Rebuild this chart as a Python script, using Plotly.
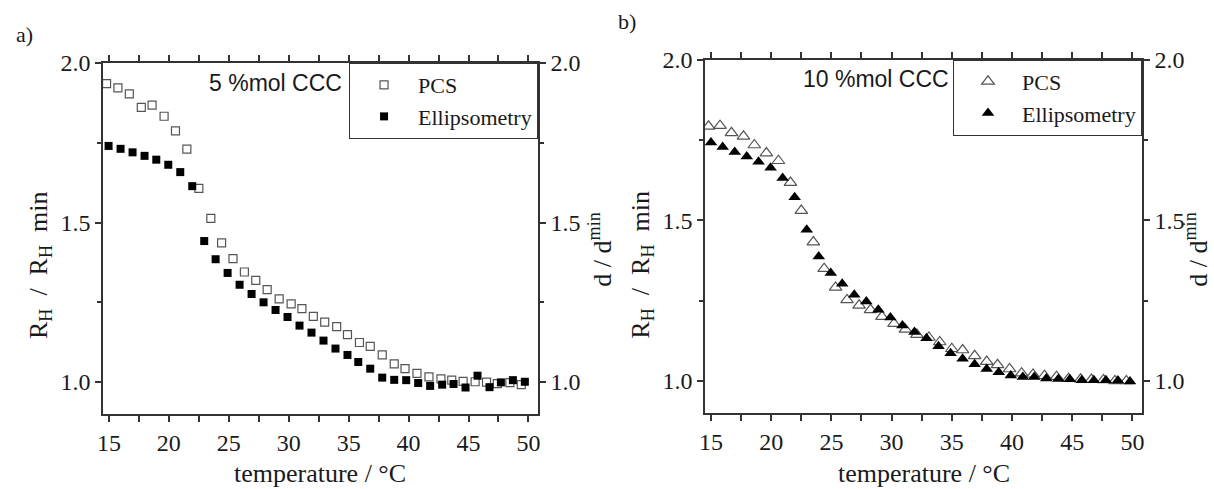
import plotly.graph_objects as go

# panel a) 5 %mol CCC
t_pcs_a = [14.8, 15.75, 16.7, 17.7, 18.6, 19.6, 20.55, 21.5, 22.5, 23.5, 24.4, 25.35, 26.3, 27.25,
           28.2, 29.2, 30.2, 31.1, 32.05, 33.0, 34.0, 34.9, 35.9, 36.8, 37.8, 38.8, 39.7, 40.7,
           41.7, 42.7, 43.6, 44.55, 45.55, 46.5, 47.4, 48.45, 49.4]
r_pcs_a = [1.935, 1.922, 1.903, 1.861, 1.868, 1.833, 1.787, 1.730, 1.607, 1.513, 1.436, 1.387,
           1.345, 1.319, 1.290, 1.261, 1.245, 1.230, 1.206, 1.188, 1.174, 1.149, 1.124, 1.112,
           1.085, 1.057, 1.042, 1.027, 1.016, 1.010, 1.006, 1.002, 1.001, 1.000, 0.995, 0.998, 0.992]
t_ell_a = [14.97, 15.97, 16.97, 17.97, 18.95, 19.95, 20.95, 21.95, 22.95, 23.9, 24.9, 25.9, 26.9,
           27.9, 28.9, 29.9, 30.9, 31.9, 32.9, 33.9, 34.9, 35.8, 36.8, 37.8, 38.8, 39.8, 40.8,
           41.8, 42.8, 43.75, 44.75, 45.75, 46.75, 47.7, 48.7, 49.7]
d_ell_a = [1.740, 1.731, 1.720, 1.709, 1.697, 1.681, 1.658, 1.614, 1.442, 1.385, 1.342, 1.305,
           1.276, 1.250, 1.226, 1.204, 1.177, 1.155, 1.130, 1.105, 1.085, 1.063, 1.042, 1.014,
           1.007, 1.006, 0.997, 0.988, 0.992, 0.994, 0.983, 1.020, 0.984, 0.999, 1.006, 1.001]

# panel b) 10 %mol CCC
t_pcs_b = [14.8, 15.75, 16.7, 17.7, 18.6, 19.6, 20.6, 21.6, 22.5, 23.5, 24.4, 25.35, 26.3, 27.3,
           28.25, 29.2, 30.2, 31.15, 32.1, 33.1, 34.0, 35.0, 35.9, 36.9, 37.9, 38.8, 39.8, 40.8,
           41.75, 42.7, 43.7, 44.7, 45.7, 46.6, 47.6, 48.55, 49.5]
r_pcs_b = [1.792, 1.794, 1.772, 1.761, 1.734, 1.709, 1.685, 1.617, 1.530, 1.432, 1.349, 1.291,
           1.252, 1.235, 1.221, 1.200, 1.178, 1.160, 1.144, 1.135, 1.121, 1.100, 1.096, 1.078,
           1.060, 1.050, 1.037, 1.024, 1.020, 1.016, 1.013, 1.007, 1.005, 1.004, 1.003, 1.000, 1.000]
t_ell_b = [15.0, 15.97, 16.97, 17.97, 18.95, 19.95, 20.95, 21.95, 22.95, 23.95, 24.95, 25.9, 26.9,
           27.9, 28.9, 29.9, 30.9, 31.9, 32.9, 33.9, 34.9, 35.9, 36.9, 37.9, 38.9, 39.9, 40.9,
           41.85, 42.85, 43.85, 44.8, 45.8, 46.8, 47.8, 48.8, 49.8]
d_ell_b = [1.742, 1.728, 1.712, 1.698, 1.682, 1.663, 1.631, 1.571, 1.470, 1.387, 1.336, 1.302,
           1.268, 1.247, 1.221, 1.197, 1.172, 1.152, 1.133, 1.108, 1.086, 1.069, 1.052, 1.037,
           1.027, 1.017, 1.012, 1.012, 1.007, 1.006, 1.005, 1.002, 1.002, 1.002, 1.001, 0.998]

x_range = [14.5, 50.8]
y_range = [0.9, 2.0]

SERIF = "Liberation Serif"
SANS = "Liberation Sans"
AX = "#333333"
INK = "#1a1a1a"

fig = go.Figure()

# a)
fig.add_trace(go.Scatter(x=t_pcs_a, y=r_pcs_a, name="PCS", mode="markers",
                         marker=dict(symbol="square", size=8, color="white",
                                     line=dict(color="#555555", width=1.2)),
                         xaxis="x", yaxis="y", legend="legend"))
fig.add_trace(go.Scatter(x=t_ell_a, y=d_ell_a, name="Ellipsometry", mode="markers",
                         marker=dict(symbol="square", size=8, color="black",
                                     line=dict(color="black", width=0)),
                         xaxis="x", yaxis="y2", legend="legend"))
# b)
fig.add_trace(go.Scatter(x=t_pcs_b, y=r_pcs_b, name="PCS", mode="markers",
                         marker=dict(symbol="triangle-up", size=11, color="white",
                                     line=dict(color="#555555", width=1.2)),
                         xaxis="x2", yaxis="y3", legend="legend2"))
fig.add_trace(go.Scatter(x=t_ell_b, y=d_ell_b, name="Ellipsometry", mode="markers",
                         marker=dict(symbol="triangle-up", size=11, color="black",
                                     line=dict(color="black", width=0)),
                         xaxis="x2", yaxis="y4", legend="legend2"))

xdom_a = [0.0848, 0.4432]
xdom_b = [0.5807, 0.9407]
ydom_a = [0.1534, 0.8712]
ydom_b = [0.1554, 0.8783]

tickfont = dict(family=SERIF, size=24, color=INK)


def xax(dom, anchor):
    return dict(domain=dom, anchor=anchor, range=x_range, tick0=15, dtick=5,
                ticks="outside", ticklen=6, tickwidth=1.5, tickcolor=AX,
                showline=True, linecolor=AX, linewidth=1.5, mirror="allticks",
                showgrid=False, zeroline=False, tickfont=tickfont, automargin=False,
                minor=dict(ticks="outside", dtick=2.5, ticklen=4, tickwidth=1.5, tickcolor=AX))


def yax(dom, anchor, side="left", overlay=None):
    d = dict(domain=dom, anchor=anchor, range=y_range, tick0=1.0, dtick=0.5,
             tickformat=".1f", side=side,
             ticks="outside", ticklen=6, tickwidth=1.5, tickcolor=AX,
             showline=True, linecolor=AX, linewidth=1.5, automargin=False,
             showgrid=False, zeroline=False, tickfont=tickfont,
             minor=dict(ticks="outside", dtick=0.25, ticklen=4, tickwidth=1.5, tickcolor=AX))
    if overlay:
        d["overlaying"] = overlay
    return d


legfont = dict(family=SERIF, size=22, color=INK)

fig.update_layout(
    width=1214, height=489,
    paper_bgcolor="white", plot_bgcolor="white",
    margin=dict(l=0, r=0, t=0, b=0, autoexpand=False),
    xaxis=xax(xdom_a, "y"),
    yaxis=yax(ydom_a, "x"),
    yaxis2=yax(ydom_a, "x", side="right", overlay="y"),
    xaxis2=xax(xdom_b, "y3"),
    yaxis3=yax(ydom_b, "x2"),
    yaxis4=yax(ydom_b, "x2", side="right", overlay="y3"),
    legend=dict(x=xdom_a[1], xanchor="right", y=ydom_a[1], yanchor="top",
                bgcolor="white", bordercolor=AX, borderwidth=1, font=legfont,
                itemwidth=58, tracegroupgap=0),
    legend2=dict(x=xdom_b[1], xanchor="right", y=ydom_b[1], yanchor="top",
                 bgcolor="white", bordercolor=AX, borderwidth=1, font=legfont,
                 itemwidth=58, tracegroupgap=0),
)

titlefont = dict(family=SERIF, size=26, color=INK)
rh_label = "R<sub>H</sub>  /  R<sub>H</sub>  min"
dd_label = "d / d<sup>min</sup>"
ann = [
    dict(text="a)", x=0.0198, y=0.930, font=dict(family=SERIF, size=22, color=INK)),
    dict(text="b)", x=0.5165, y=0.957, font=dict(family=SERIF, size=22, color=INK)),
    dict(text="temperature / °C", x=0.2636, y=0.032, font=titlefont),
    dict(text="temperature / °C", x=0.761, y=0.032, font=titlefont),
    dict(text=rh_label, x=0.033, y=0.458, textangle=-90, font=titlefont),
    dict(text=dd_label, x=0.4945, y=0.49, textangle=-90, font=titlefont),
    dict(text=rh_label, x=0.5285, y=0.458, textangle=-90, font=titlefont),
    dict(text=dd_label, x=0.9855, y=0.49, textangle=-90, font=titlefont),
]
for a in ann:
    fig.add_annotation(xref="paper", yref="paper", showarrow=False,
                       xanchor="center", yanchor="middle", **a)

fig.add_annotation(text="5 %mol CCC", xref="x", yref="y", x=23.2, y=1.938,
                   xanchor="left", yanchor="middle", showarrow=False,
                   font=dict(family=SANS, size=23, color=INK))
fig.add_annotation(text="10 %mol CCC", xref="x2", yref="y3", x=22.5, y=1.938,
                   xanchor="left", yanchor="middle", showarrow=False,
                   font=dict(family=SANS, size=23, color=INK))

fig.write_html("out.html", config={"displayModeBar": False},
               post_script="document.body.style.margin='0';")
